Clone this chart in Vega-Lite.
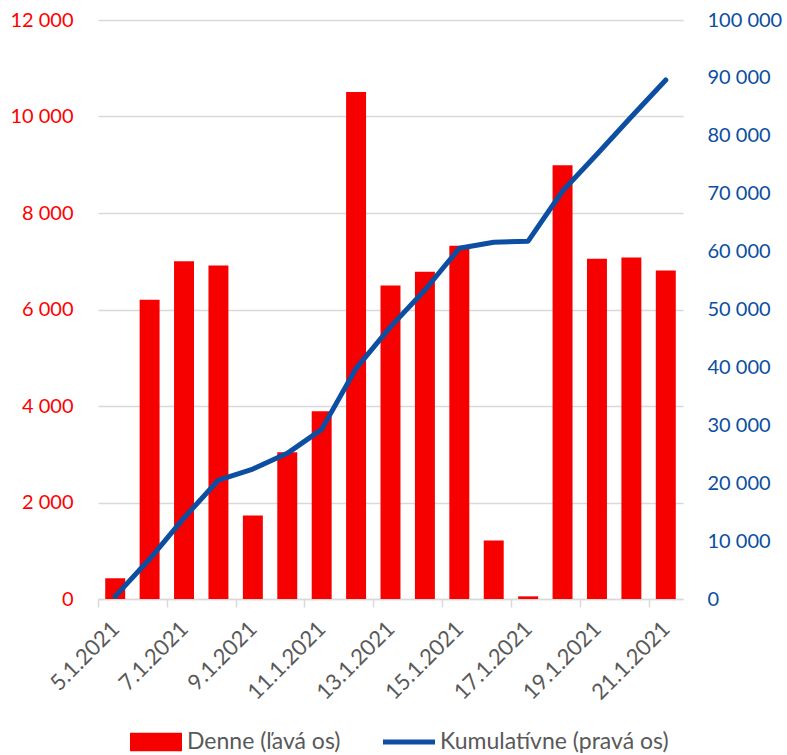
{
  "$schema": "https://vega.github.io/schema/vega-lite/v6.json",
  "width": 585,
  "height": 579,
  "autosize": {"type": "none"},
  "padding": {"left": 98, "top": 20, "right": 104, "bottom": 156},
  "config": {
    "font": "Lato",
    "view": {"stroke": null},
    "locale": {"number": {"decimal": ",", "thousands": " ", "grouping": [3], "currency": ["", " €"]}}
  },
  "data": {
    "values": [
      {"date": "5.1.2021", "daily": 430, "cum": 450},
      {"date": "6.1.2021", "daily": 6200, "cum": 6900},
      {"date": "7.1.2021", "daily": 7000, "cum": 14000},
      {"date": "8.1.2021", "daily": 6910, "cum": 20550},
      {"date": "9.1.2021", "daily": 1730, "cum": 22450},
      {"date": "10.1.2021", "daily": 3040, "cum": 25160},
      {"date": "11.1.2021", "daily": 3890, "cum": 29300},
      {"date": "12.1.2021", "daily": 10510, "cum": 39840},
      {"date": "13.1.2021", "daily": 6500, "cum": 47000},
      {"date": "14.1.2021", "daily": 6780, "cum": 53370},
      {"date": "15.1.2021", "daily": 7320, "cum": 60570},
      {"date": "16.1.2021", "daily": 1215, "cum": 61600},
      {"date": "17.1.2021", "daily": 55, "cum": 61800},
      {"date": "18.1.2021", "daily": 8990, "cum": 70470},
      {"date": "19.1.2021", "daily": 7050, "cum": 76800},
      {"date": "20.1.2021", "daily": 7080, "cum": 83300},
      {"date": "21.1.2021", "daily": 6810, "cum": 89640}
    ]
  },
  "encoding": {
    "x": {
      "field": "date",
      "type": "ordinal",
      "sort": null,
      "scale": {"paddingInner": 0.42, "paddingOuter": 0.21},
      "axis": {
        "title": null,
        "values": ["5.1.2021", "7.1.2021", "9.1.2021", "11.1.2021", "13.1.2021", "15.1.2021", "17.1.2021", "19.1.2021", "21.1.2021"],
        "bandPosition": 0.5,
        "tickOffset": -17.2,
        "labelOffset": 17.2,
        "labelAngle": -45,
        "labelAlign": "right",
        "labelBaseline": "middle",
        "labelPadding": 18,
        "labelFontSize": 22,
        "labelColor": "#595959",
        "domainColor": "#d9d9d9",
        "domainWidth": 1.5,
        "tickColor": "#d9d9d9",
        "tickWidth": 1.5,
        "tickSize": 8,
        "grid": false
      }
    }
  },
  "layer": [
    {
      "mark": {"type": "bar"},
      "encoding": {
        "y": {
          "field": "daily",
          "type": "quantitative",
          "scale": {"domain": [0, 12000], "nice": false},
          "axis": {
            "orient": "left",
            "title": null,
            "values": [0, 2000, 4000, 6000, 8000, 10000, 12000],
            "format": ",d",
            "grid": true,
            "gridColor": "#d9d9d9",
            "gridWidth": 1.5,
            "domain": false,
            "ticks": false,
            "labelColor": "#ff0000",
            "labelFontSize": 20,
            "labelPadding": 25
          }
        },
        "color": {
          "datum": "Denne (ľavá os)",
          "type": "nominal",
          "scale": {"domain": ["Denne (ľavá os)", "Kumulatívne (pravá os)"], "range": ["#f70000", "#0b4ea2"]},
          "legend": {
            "title": null,
            "orient": "none",
            "legendX": 32,
            "legendY": 696,
            "direction": "horizontal",
            "labelFontSize": 23,
            "labelColor": "#595959",
            "labelLimit": 500,
            "symbolSize": 2704,
            "columnPadding": 42,
            "labelOffset": 5,
            "encode": {
              "symbols": {
                "update": {
                  "shape": {"signal": "datum.label == 'Denne (ľavá os)' ? 'M-1,-0.36H1V0.36H-1Z' : 'M-1,-0.1H1V0.1H-1Z'"},
                  "fill": {"signal": "datum.label == 'Denne (ľavá os)' ? '#f70000' : '#0b4ea2'"},
                  "stroke": {"value": "transparent"},
                  "strokeWidth": {"value": 0},
                  "opacity": {"value": 1}
                }
              }
            }
          }
        }
      }
    },
    {
      "mark": {"type": "line", "strokeWidth": 5, "strokeCap": "round", "strokeJoin": "round"},
      "encoding": {
        "y": {
          "field": "cum",
          "type": "quantitative",
          "scale": {"domain": [0, 100000], "nice": false},
          "axis": {
            "orient": "right",
            "title": null,
            "values": [0, 10000, 20000, 30000, 40000, 50000, 60000, 70000, 80000, 90000, 100000],
            "format": ",d",
            "grid": false,
            "domain": false,
            "ticks": false,
            "labelColor": "#0b4ea2",
            "labelFontSize": 20,
            "labelPadding": 24
          }
        },
        "color": {"datum": "Kumulatívne (pravá os)", "type": "nominal"}
      }
    }
  ],
  "resolve": {"scale": {"y": "independent"}}
}
